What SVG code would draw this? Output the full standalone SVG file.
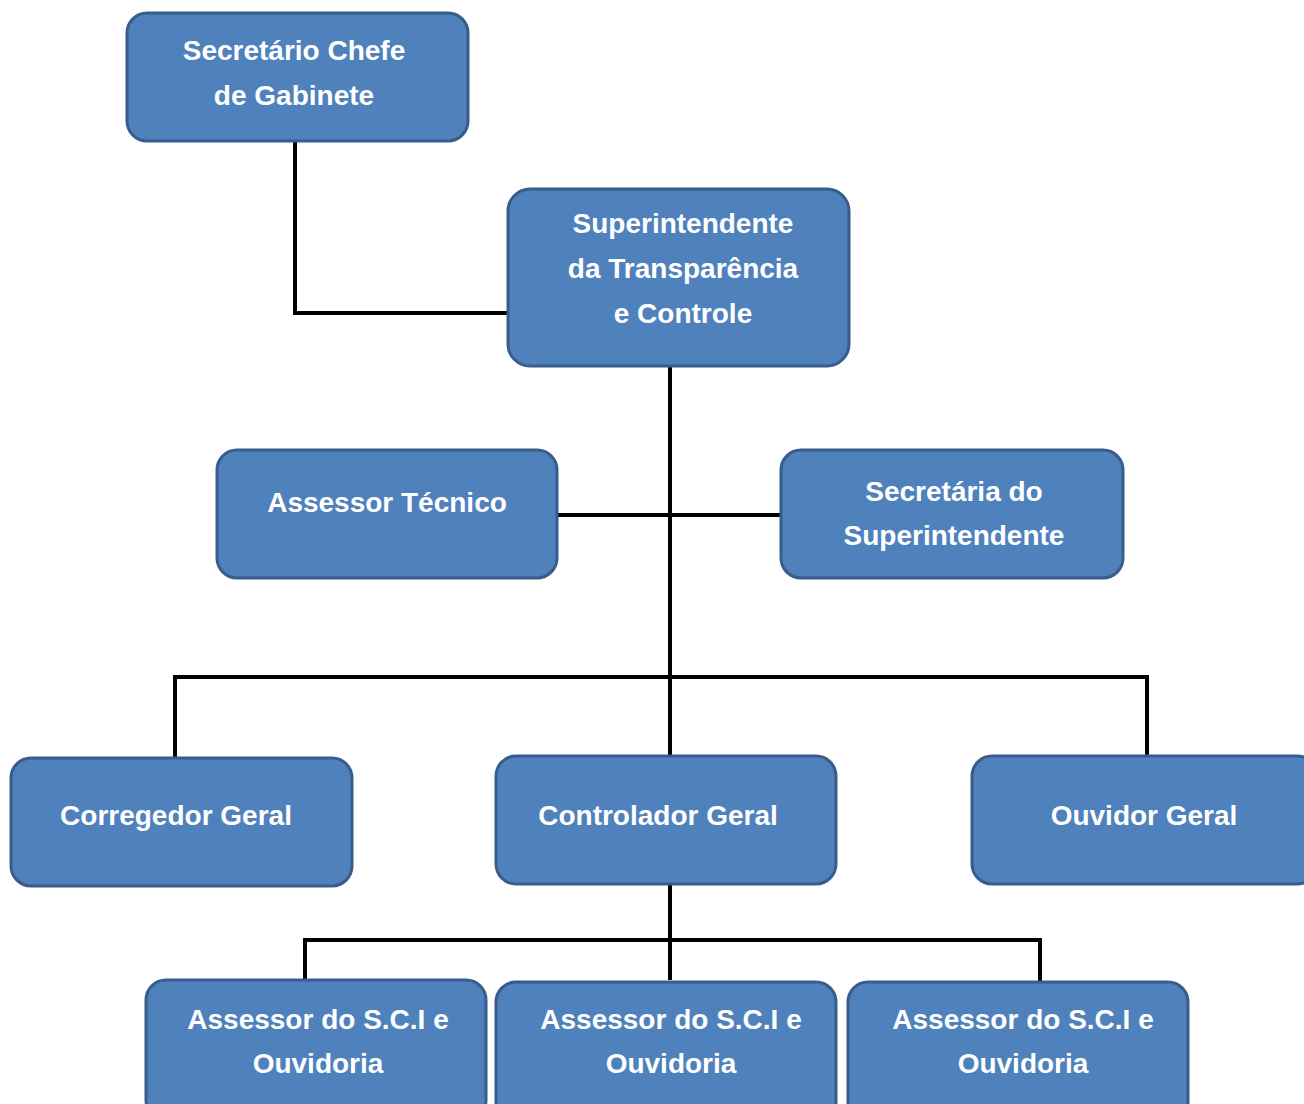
<svg xmlns="http://www.w3.org/2000/svg" width="1304" height="1104" viewBox="0 0 1304 1104">
<style>
.box{fill:#4F81BD;stroke:#385D8A;stroke-width:3}
.lbl{font-family:"Liberation Sans",Arial,sans-serif;font-weight:bold;font-size:28px;fill:#FFFFFF;text-anchor:middle}
.conn{fill:none;stroke:#000000;stroke-width:4}
</style>
<rect width="1304" height="1104" fill="#FFFFFF"/>
<g id="connectors">
<polyline class="conn" points="295,141 295,313 508,313"/>
<line class="conn" x1="670" y1="366" x2="670" y2="756"/>
<line class="conn" x1="557" y1="515" x2="781" y2="515"/>
<polyline class="conn" points="175,758 175,677 1147,677 1147,756"/>
<line class="conn" x1="670" y1="884" x2="670" y2="980"/>
<polyline class="conn" points="305,980 305,940 1040,940 1040,982"/>
</g>
<g id="n1"><rect class="box" x="127" y="13" width="341" height="128" rx="20"/><text class="lbl" x="294" y="60">Secretário Chefe</text><text class="lbl" x="294" y="105">de Gabinete</text></g>
<g id="n2"><rect class="box" x="508" y="189" width="341" height="177" rx="22"/><text class="lbl" x="683" y="233">Superintendente</text><text class="lbl" x="683" y="278">da Transparência</text><text class="lbl" x="683" y="323">e Controle</text></g>
<g id="n3"><rect class="box" x="217" y="450" width="340" height="128" rx="20"/><text class="lbl" x="387" y="512">Assessor Técnico</text></g>
<g id="n4"><rect class="box" x="781" y="450" width="342" height="128" rx="20"/><text class="lbl" x="954" y="501">Secretária do</text><text class="lbl" x="954" y="545">Superintendente</text></g>
<g id="n5"><rect class="box" x="11" y="758" width="341" height="128" rx="20"/><text class="lbl" x="176" y="825">Corregedor Geral</text></g>
<g id="n6"><rect class="box" x="496" y="756" width="340" height="128" rx="20"/><text class="lbl" x="658" y="825">Controlador Geral</text></g>
<g id="n7"><rect class="box" x="972" y="756" width="345" height="128" rx="20"/><text class="lbl" x="1144" y="825">Ouvidor Geral</text></g>
<g id="n8"><rect class="box" x="146" y="980" width="340" height="140" rx="20"/><text class="lbl" x="318" y="1029">Assessor do S.C.I e</text><text class="lbl" x="318" y="1073">Ouvidoria</text></g>
<g id="n9"><rect class="box" x="496" y="982" width="340" height="140" rx="20"/><text class="lbl" x="671" y="1029">Assessor do S.C.I e</text><text class="lbl" x="671" y="1073">Ouvidoria</text></g>
<g id="n10"><rect class="box" x="848" y="982" width="340" height="140" rx="20"/><text class="lbl" x="1023" y="1029">Assessor do S.C.I e</text><text class="lbl" x="1023" y="1073">Ouvidoria</text></g>
</svg>
